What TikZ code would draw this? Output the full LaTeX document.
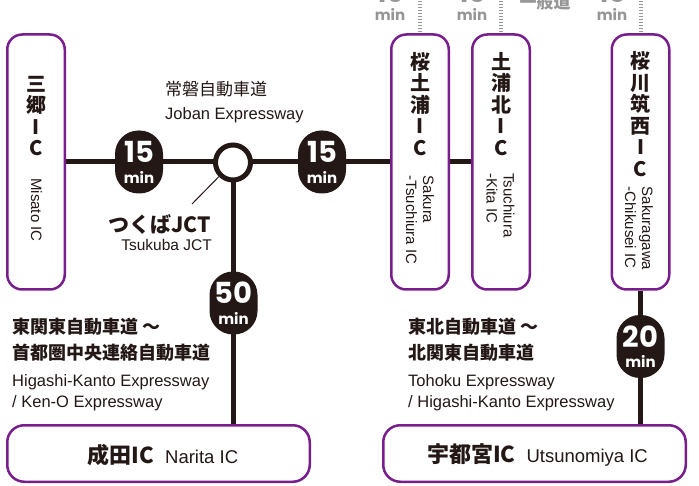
\documentclass[tikz,border=0pt]{standalone}
\usepackage{fontspec}
\setmainfont{Liberation Sans}
\newfontfamily\cjk{Noto Sans CJK JP}
\newfontfamily\numfont{Poppins}
\usetikzlibrary{calc}
\definecolor{ink}{RGB}{35,24,21}
\definecolor{purp}{RGB}{120,30,140}
\definecolor{gry}{RGB}{150,150,150}
\pgfdeclarelayer{bg}
\pgfsetlayers{bg,main}
\newcommand\mkbadge[4]{%
  \node[badge] (#1) at (#2,#3) {};
  \node[bnum] (#1n) at ($(#1.center)+(0,-10)$) {#4};
  \node[bmin] (#1m) at ($(#1.center)+(0,15)$) {min};}
\tikzset{
  icbox/.style={draw=purp, line width=2.5pt, rounded corners=15pt, fill=white,
    minimum width=57.5pt, minimum height=255pt, inner sep=0pt},
  wbox/.style={draw=purp, line width=2.5pt, rounded corners=17pt, fill=white,
    minimum width=302.5pt, minimum height=56.5pt, inner sep=0pt},
  road/.style={draw=ink, line width=5pt},
  badge/.style={fill=ink, rounded corners=23.5pt, minimum width=48pt,
    minimum height=63pt, inner sep=0pt},
  bnum/.style={text=white, font=\numfont\bfseries\fontsize{29}{29}\selectfont, inner sep=0pt},
  bmin/.style={text=white, font=\numfont\bfseries\fontsize{15}{15}\selectfont, inner sep=0pt},
  jvert/.style={font=\cjk\bfseries\fontsize{20}{21.5}\selectfont, align=center,
    text=ink, inner sep=0pt},
  rotlab/.style={font=\fontsize{15}{17}\selectfont, align=left, rotate=-90,
    text=ink, inner sep=0pt},
  jbold/.style={font=\cjk\bfseries\fontsize{18}{18}\selectfont, text=ink,
    inner sep=0pt, anchor=west},
  jreg/.style={font=\cjk\fontsize{17}{17}\selectfont, text=ink, inner sep=0pt, anchor=west},
  elab/.style={font=\fontsize{16.5}{16.5}\selectfont, text=ink, inner sep=0pt, anchor=west},
  dots/.style={draw=gry, line width=4pt, dash pattern=on 1.5pt off 1.5pt},
  gmin/.style={text=gry, font=\numfont\bfseries\fontsize{15}{15}\selectfont, inner sep=0pt},
  gnum/.style={text=gry, font=\numfont\bfseries\fontsize{26}{26}\selectfont, inner sep=0pt},
}
\begin{document}
\begin{tikzpicture}[x=1pt,y=-1pt]
\useasboundingbox (0,0) rectangle (699,486);
\clip (0,0) rectangle (699,486);

% IC boxes
\node[icbox] (misato) at (36,162) {};
\node[icbox] (sakura) at (420,162) {};
\node[icbox] (kita) at (501,162) {};
\node[icbox] (chikusei) at (640.5,162) {};
\node[wbox] (narita) at (158.5,453.5) {};
\node[wbox] (utsu) at (534.5,453.5) {};

% vertical Japanese names
\node[jvert] (misatoj) at (36,116) {三\\郷\\I\\C};
\node[jvert] (sakuraj) at (420,104) {桜\\土\\浦\\I\\C};
\node[jvert] (kitaj) at (501,104) {土\\浦\\北\\I\\C};
\node[jvert] (chikuseij) at (640.5,114) {桜\\川\\筑\\西\\I\\C};

% rotated English names
\node[rotlab] (misatoe) at (36.5,210) {Misato IC};
\node[rotlab] (sakurae) at (420,220) {Sakura\\-Tsuchiura IC};
\node[rotlab] (kitae) at (500.5,205.5) {Tsuchiura\\-Kita IC};
\node[rotlab] (chikuseie) at (639,228.5) {Sakuragawa\\-Chikusei IC};

% junction
\node[circle, draw=ink, line width=5pt, fill=white, minimum size=35pt, inner sep=0pt] (jct) at (233,162.5) {};
\coordinate (lead) at (192,204);
\draw[ink, line width=1pt] (jct.225) -- (lead);
\node[font=\cjk\bfseries\fontsize{21}{21}\selectfont, text=ink, inner sep=0pt, anchor=east] (jctj) at (211,224) {つくばJCT};
\node[font=\fontsize{15.5}{15.5}\selectfont, text=ink, inner sep=0pt, anchor=east] (jcte) at (212,245) {Tsukuba JCT};

% roads
\begin{pgfonlayer}{bg}
\fill[white] (0,0) rectangle (699,486);
\draw[road] (misato.east) -- (sakura.west);
\draw[road] (sakura.east) -- (kita.west);
\draw[road] (jct) -- (jct |- narita.north);
\draw[road] (chikusei.south) -- (chikusei.south |- utsu.north);
\end{pgfonlayer}

% badges
\mkbadge{b1}{139}{162}{15}
\mkbadge{b2}{322}{162}{15}
\mkbadge{b3}{233.5}{303}{50}
\mkbadge{b4}{640.5}{346.5}{20}

% road names
\node[jreg] (joj) at (165,89) {常磐自動車道};
\node[elab] (joe) at (165,115) {Joban Expressway};

\node[jbold] (l1) at (12,327) {東関東自動車道 ～};
\node[jbold] (l2) at (12,353) {首都圏中央連絡自動車道};
\node[elab] (l3) at (12,382) {Higashi-Kanto Expressway};
\node[elab] (l4) at (12,403) {/ Ken-O Expressway};

\node[jbold] (r1) at (408,327) {東北自動車道 ～};
\node[jbold] (r2) at (408,353) {北関東自動車道};
\node[elab] (r3) at (408,382) {Tohoku Expressway};
\node[elab] (r4) at (408,403) {/ Higashi-Kanto Expressway};

% bottom box labels
\node[inner sep=0pt, text=ink] (naritat) at (163,455)
  {{\cjk\bfseries\fontsize{22}{22}\selectfont 成田IC}\hspace{11pt}{\fontsize{18.5}{18.5}\selectfont Narita IC}};
\node[inner sep=0pt, text=ink] (utsut) at (537.5,455)
  {{\cjk\bfseries\fontsize{22}{22}\selectfont 宇都宮IC}\hspace{11pt}{\fontsize{18.5}{18.5}\selectfont Utsunomiya IC}};

% top (cut-off) feeder roads
\coordinate (t1) at (420,-2);
\coordinate (t2) at (501,-2);
\coordinate (t3) at (640.5,-2);
\draw[dots] (t1) -- ([yshift=1.5pt]t1 |- sakura.north);
\draw[dots] (t2) -- ([yshift=1.5pt]t2 |- kita.north);
\draw[dots] (t3) -- ([yshift=1.5pt]t3 |- chikusei.north);
\node[gmin] (m1) at (390,14) {min};
\node[gmin] (m2) at (472,14) {min};
\node[gmin] (m3) at (612,14) {min};
\node[gnum] (n1) at (390,-7) {15};
\node[gnum] (n2) at (472,-7) {15};
\node[gnum] (n3) at (612,-7) {15};
\node[text=gry, font=\cjk\bfseries\fontsize{17}{17}\selectfont, inner sep=0pt] (ippan) at (545,2) {一般道};
\end{tikzpicture}
\end{document}
